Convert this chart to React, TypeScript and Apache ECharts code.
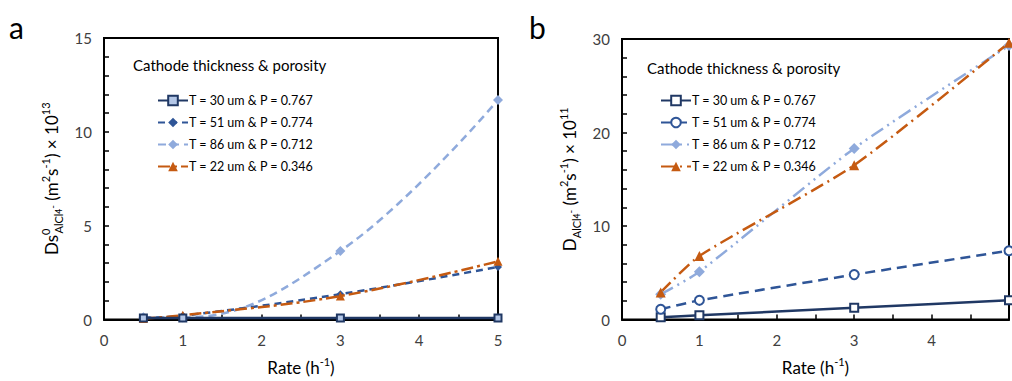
import React, { useEffect, useRef } from 'react';
import * as echarts from 'echarts';

const rates = [0.5, 1, 3, 5];
const seriesNames = [
  'T = 30 um & P = 0.767',
  'T = 51 um & P = 0.774',
  'T = 86 um & P = 0.712',
  'T = 22 um & P = 0.346',
];
// panel a: Ds0 x 10^13
const dsT30 = [0.08, 0.08, 0.08, 0.08];
const dsT51 = [0.08, 0.2, 1.35, 2.8];
const dsT86 = [0.12, 0.1, 3.65, 11.7];
const dsT22 = [0.05, 0.22, 1.25, 3.1];
// panel b: D x 10^11
const dT30 = [0.25, 0.45, 1.25, 2.05];
const dT51 = [1.1, 2.05, 4.8, 7.35];
const dT86 = [2.7, 5.1, 18.3, 29.3];
const dT22 = [2.9, 6.8, 16.5, 29.6];

const xTickLabels = [0, 1, 2, 3, 4, 5];
const leftYLabels = [0, 5, 10, 15];
const rightYLabels = [0, 10, 20, 30];
const legendTitle = 'Cathode thickness & porosity';

const FONT = 'Lato, Carlito, Calibri, "Open Sans", sans-serif';
const NAVY = '#203864';
const BLUE = '#2f5597';
const LIGHT = '#8faadc';
const ORANGE = '#c55a11';

const rich = {
  n: { fontSize: 17, lineHeight: 24, fontFamily: FONT, color: '#000' },
  x: { fontSize: 17, lineHeight: 24, fontFamily: FONT, color: '#000' },
  sup: { fontSize: 11, lineHeight: 10, verticalAlign: 'top', fontFamily: FONT, color: '#000' },
  sup0: { fontSize: 11, lineHeight: 10, verticalAlign: 'top', fontFamily: FONT, color: '#000', padding: [0, -5, 0, 0] },
  sub: { fontSize: 11, lineHeight: 10, verticalAlign: 'bottom', fontFamily: FONT, color: '#000' },
  subsub: { fontSize: 8.5, lineHeight: 8, verticalAlign: 'bottom', fontFamily: FONT, color: '#000' },
  subsup: { fontSize: 10, lineHeight: 14, verticalAlign: 'middle', fontFamily: FONT, color: '#000' },
};

function pairs(ys: number[]) {
  return rates.map((r, i) => [r, ys[i]]);
}

function makeOption(cfg: any) {
  return {
    animation: false,
    textStyle: { fontFamily: FONT },
    grid: {
      left: cfg.gridLeft,
      right: cfg.gridRight,
      top: cfg.gridTop,
      bottom: 57,
      show: true,
      borderColor: '#000',
      borderWidth: 2,
      containLabel: false,
    },
    graphic: [
      {
        type: 'text',
        left: 9,
        top: 12,
        style: { text: cfg.letter, fontSize: 30, fontFamily: FONT, fill: '#000' },
      },
      {
        type: 'text',
        left: cfg.titleLeft,
        top: cfg.titleTop,
        style: { text: legendTitle, fontSize: 15, fontFamily: FONT, fill: '#000' },
      },
    ],
    legend: {
      orient: 'vertical',
      left: cfg.legendLeft,
      top: cfg.legendTop,
      itemWidth: 30,
      itemHeight: 12,
      itemGap: 9,
      textStyle: { fontSize: 12.5, fontFamily: FONT, color: '#000', padding: [0, 0, 0, -4] },
      data: seriesNames,
    },
    xAxis: {
      type: 'value',
      min: 0,
      max: 5,
      interval: 0.5,
      axisLine: { show: true, lineStyle: { color: '#000', width: 2 } },
      axisTick: { show: true, inside: true, length: 5, lineStyle: { color: '#000', width: 1.5 } },
      splitLine: { show: false },
      axisLabel: {
        fontSize: 15,
        color: '#404040',
        fontFamily: FONT,
        margin: 13,
        formatter: (v: number) => (cfg.xLabels.includes(v) ? String(v) : ''),
      },
      name: '{x|Rate (h}{sup|-1}{x|)}',
      nameLocation: 'middle',
      nameGap: 36,
      nameTextStyle: { rich },
    },
    yAxis: {
      type: 'value',
      min: 0,
      max: cfg.yMax,
      interval: cfg.yInterval,
      axisLine: { show: true, lineStyle: { color: '#000', width: 2 } },
      axisTick: { show: true, inside: true, length: 5, lineStyle: { color: '#000', width: 1.5 } },
      splitLine: { show: false },
      axisLabel: {
        fontSize: 15,
        color: '#404040',
        fontFamily: FONT,
        margin: 12,
        formatter: (v: number) => (cfg.yLabels.includes(v) ? String(v) : ''),
      },
      name: cfg.yName,
      nameLocation: 'middle',
      nameRotate: 90,
      nameGap: cfg.yNameGap,
      nameTextStyle: { rich },
    },
    series: cfg.series,
  };
}

const leftSeries = [
  {
    name: seriesNames[0],
    type: 'line',
    data: pairs(dsT30),
    smooth: 0.4,
    symbol: 'rect',
    symbolSize: 7,
    lineStyle: { color: NAVY, width: 2.5, type: 'solid' },
    itemStyle: { color: '#b4c7e7', borderColor: NAVY, borderWidth: 2 },
    z: 5,
  },
  {
    name: seriesNames[1],
    type: 'line',
    data: pairs(dsT51),
    smooth: 0.4,
    symbol: 'diamond',
    symbolSize: 8,
    lineStyle: { color: BLUE, width: 2.5, type: [7, 5] },
    itemStyle: { color: BLUE, borderColor: BLUE, borderWidth: 0 },
    z: 3,
  },
  {
    name: seriesNames[2],
    type: 'line',
    data: pairs(dsT86),
    smooth: 0.4,
    symbol: 'diamond',
    symbolSize: 10,
    lineStyle: { color: LIGHT, width: 2.5, type: [8, 5] },
    itemStyle: { color: LIGHT, borderColor: LIGHT, borderWidth: 0 },
    z: 2,
  },
  {
    name: seriesNames[3],
    type: 'line',
    data: pairs(dsT22),
    smooth: 0.4,
    symbol: 'triangle',
    symbolSize: 9,
    lineStyle: { color: ORANGE, width: 2.5, type: [12, 4, 3, 4] },
    itemStyle: { color: ORANGE, borderColor: ORANGE, borderWidth: 0 },
    z: 4,
  },
];

const rightSeries = [
  {
    name: seriesNames[0],
    type: 'line',
    data: pairs(dT30),
    smooth: 0.2,
    symbol: 'rect',
    symbolSize: 8,
    lineStyle: { color: NAVY, width: 2.5, type: 'solid' },
    itemStyle: { color: '#fff', borderColor: NAVY, borderWidth: 2 },
  },
  {
    name: seriesNames[1],
    type: 'line',
    data: pairs(dT51),
    smooth: 0.2,
    symbol: 'circle',
    symbolSize: 9,
    lineStyle: { color: BLUE, width: 2.5, type: [10, 6] },
    itemStyle: { color: '#fff', borderColor: BLUE, borderWidth: 2 },
  },
  {
    name: seriesNames[2],
    type: 'line',
    data: pairs(dT86),
    smooth: 0.2,
    symbol: 'diamond',
    symbolSize: 11,
    lineStyle: { color: LIGHT, width: 2.5, type: [14, 5, 2, 5, 2, 5] },
    itemStyle: { color: LIGHT, borderColor: LIGHT, borderWidth: 0 },
  },
  {
    name: seriesNames[3],
    type: 'line',
    data: pairs(dT22),
    smooth: 0.2,
    symbol: 'triangle',
    symbolSize: 10,
    lineStyle: { color: ORANGE, width: 2.5, type: [14, 5, 2, 5] },
    itemStyle: { color: ORANGE, borderColor: ORANGE, borderWidth: 0 },
  },
];

function Chart({ option, style }: { option: any; style: React.CSSProperties }) {
  const ref = useRef<HTMLDivElement>(null);
  useEffect(() => {
    if (!ref.current) return;
    const chart = echarts.init(ref.current, undefined, { renderer: 'svg' });
    chart.setOption(option);
    return () => chart.dispose();
  }, [option]);
  return <div ref={ref} style={style} />;
}

const leftOption = makeOption({
  letter: 'a',
  gridLeft: 104,
  gridRight: 22,
  gridTop: 38,
  titleLeft: 133,
  titleTop: 57,
  legendLeft: 152,
  legendTop: 89,
  xLabels: xTickLabels,
  yMax: 15,
  yInterval: 1,
  yLabels: leftYLabels,
  yNameGap: 33,
  yName: '{n|Ds}{sup0|0}{sub|AlCl}{subsub|4}{subsup|-}{n| (m}{sup|2}{n|s}{sup|-1}{n|) × 10}{sup|13}',
  series: leftSeries,
});

const rightOption = makeOption({
  letter: 'b',
  gridLeft: 102,
  gridRight: -4,
  gridTop: 39,
  titleLeft: 127,
  titleTop: 60,
  legendLeft: 135,
  legendTop: 89,
  xLabels: [0, 1, 2, 3, 4],
  yMax: 30,
  yInterval: 2,
  yLabels: rightYLabels,
  yNameGap: 28,
  yName: '{n|D}{sub|AlCl}{subsub|4}{subsup|-}{n| (m}{sup|2}{n|s}{sup|-1}{n|) × 10}{sup|11}',
  series: rightSeries,
});

export default function App() {
  return (
    <div
      style={{
        position: 'absolute',
        left: 0,
        top: 0,
        width: 1012,
        height: 381,
        overflow: 'hidden',
        background: '#fff',
      }}
    >
      <Chart option={leftOption} style={{ position: 'absolute', left: 0, top: 0, width: 520, height: 381 }} />
      <Chart option={rightOption} style={{ position: 'absolute', left: 520, top: 0, width: 492, height: 381 }} />
    </div>
  );
}
